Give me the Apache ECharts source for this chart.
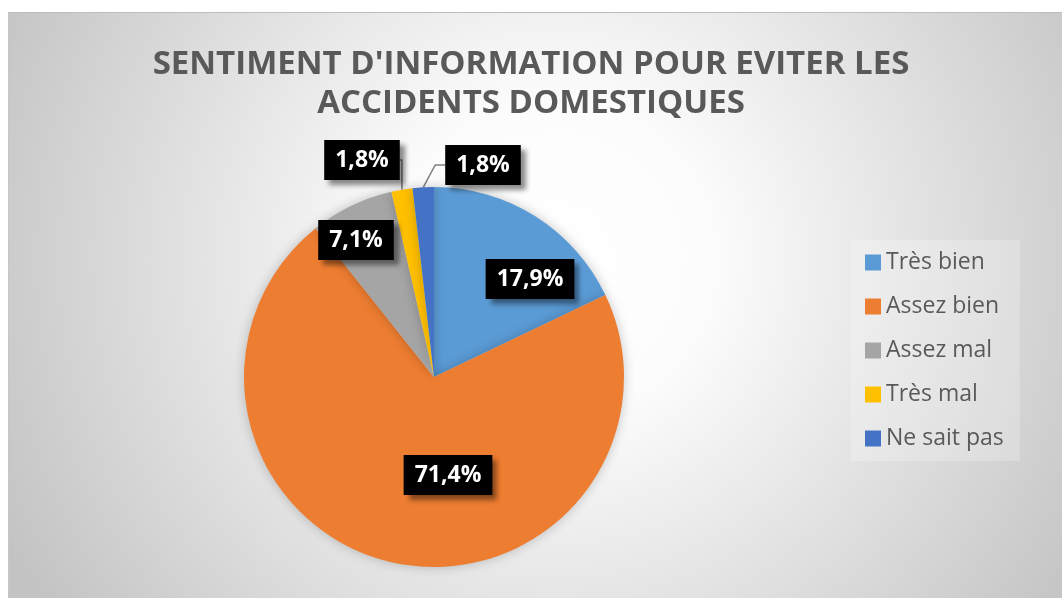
<!DOCTYPE html>
<html>
<head>
<meta charset="utf-8">
<script src="https://cdn.jsdelivr.net/npm/echarts@6/dist/echarts.min.js"></script>
<style>
  html, body { margin: 0; padding: 0; background: #ffffff; }
  #bg { position: absolute; left: 8px; top: 12px; width: 1054px; height: 586px;
        border-top: 1px solid #bdbdbd; border-left: 1px solid #c6c6c6; box-sizing: border-box;
        background: radial-gradient(circle 620px at 52% 42%, #ffffff 0%, #fcfcfc 25%, #c3c3c3 100%); }
  #chart { position: absolute; left: 0; top: 0; width: 1062px; height: 598px; }
</style>
</head>
<body>
<div id="bg"></div>
<div id="chart"></div>
<script>
const titleLines = ["SENTIMENT D'INFORMATION POUR EVITER LES", "ACCIDENTS DOMESTIQUES"];
const categories = ['Très bien', 'Assez bien', 'Assez mal', 'Très mal', 'Ne sait pas'];
const values = [17.9, 71.4, 7.1, 1.8, 1.8];
const colors = ['#5B9BD5', '#ED7D31', '#A5A5A5', '#FFC000', '#4472C4'];
const outsideLabel = [false, false, false, true, true];
// label box centres (layout, page pixels)
const labelCenters = [[530, 279], [448, 475], [356, 240], [362, 160], [483, 165]];

const fmt = v => v.toFixed(1).replace('.', ',') + '%';

const data = categories.map((name, i) => ({
  name: name,
  value: values[i],
  itemStyle: { color: colors[i] },
  label: { position: outsideLabel[i] ? 'outside' : 'inside' },
  labelLine: { show: outsideLabel[i] }
}));

const chart = echarts.init(document.getElementById('chart'), null, { renderer: 'canvas' });
chart.setOption({
  backgroundColor: 'transparent',
  animation: false,
  title: {
    text: titleLines.join('\n'),
    left: 'center',
    top: 45,
    padding: [0, 0, 0, 14],
    textStyle: {
      fontFamily: 'Open Sans',
      fontWeight: 'bold',
      fontSize: 33,
      lineHeight: 39,
      color: '#595959'
    }
  },
  legend: {
    orient: 'vertical',
    left: 851,
    top: 240,
    padding: [9, 16, 9, 14],
    backgroundColor: 'rgba(255,255,255,0.22)',
    itemWidth: 16,
    itemHeight: 16,
    itemGap: 17,
    icon: 'rect',
    data: categories,
    textStyle: {
      fontFamily: 'Open Sans',
      fontSize: 23,
      lineHeight: 27,
      color: '#595959'
    }
  },
  series: [{
    type: 'pie',
    center: [434, 377],
    radius: 190,
    startAngle: 90,
    clockwise: true,
    avoidLabelOverlap: false,
    data: data,
    itemStyle: {
      shadowBlur: 12,
      shadowColor: 'rgba(0,0,0,0.22)'
    },
    label: {
      show: true,
      formatter: p => fmt(p.value),
      color: '#ffffff',
      fontFamily: 'Open Sans',
      fontWeight: 'bold',
      fontSize: 23,
      lineHeight: 28,
      backgroundColor: '#000000',
      padding: [6, 11, 6, 11],
      shadowColor: 'rgba(0,0,0,0.45)',
      shadowBlur: 5,
      shadowOffsetX: 5,
      shadowOffsetY: 5
    },
    labelLine: {
      length: 12,
      length2: 10,
      smooth: false,
      lineStyle: { color: '#7f7f7f', width: 1.5 }
    },
    labelLayout: function (params) {
      const c = labelCenters[params.dataIndex];
      return { x: c[0], y: c[1], align: 'center', verticalAlign: 'middle' };
    }
  }]
});
</script>
</body>
</html>
